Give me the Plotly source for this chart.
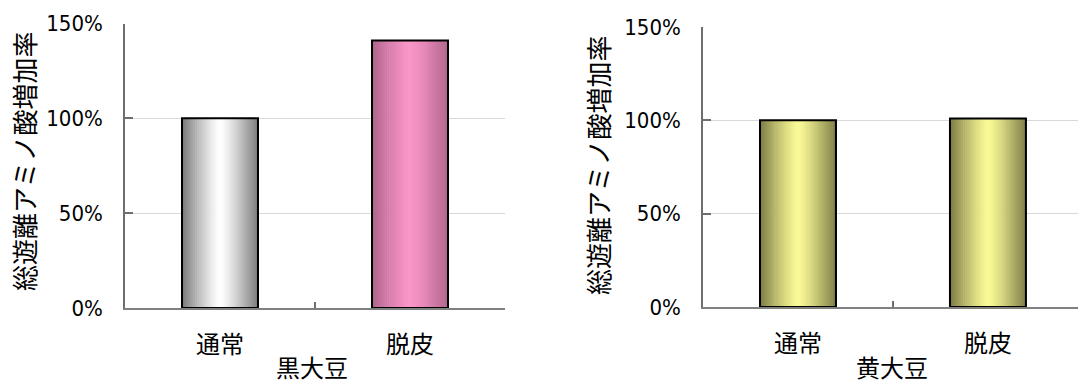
import plotly.graph_objects as go

# ---- data ----
categories = ["通常", "脱皮"]
black_soy_values = [1.00, 1.41]     # 黒大豆
yellow_soy_values = [1.00, 1.01]    # 黄大豆
y_tick_vals = [0, 0.5, 1.0, 1.5]
y_tick_text = ["0%", "50%", "100%", "150%"]
y_title = "総遊離アミノ酸増加率"
x_title_left = "黒大豆"
x_title_right = "黄大豆"

# ---- style ----
W, H = 1078, 383
CJK = "Noto Sans CJK JP"
NUM = "Liberation Sans Narrow, DejaVu Sans Condensed, sans-serif"
bar_w = 0.4
N = 40

grad_gray = ((0x78, 0x78, 0x78), (0xff, 0xff, 0xff))
grad_pink = ((0xb0, 0x64, 0x8c), (0xfa, 0x96, 0xc8))
grad_yell = ((0x7b, 0x7b, 0x45), (0xfa, 0xfa, 0x96))


def grad_color(g, t, p=1.25):
    edge, center = g
    s = 1 - abs(2 * t - 1) ** p
    c = [round(e + (m - e) * s) for e, m in zip(edge, center)]
    return "rgb(%d,%d,%d)" % tuple(c)


fig = go.Figure()


def add_bars(vals, grads, xa, ya):
    step = bar_w / N
    for k in range(N):
        t = (k + 0.5) / N
        w = step * 1.3 if k < N - 1 else step
        fig.add_trace(go.Bar(
            x=categories, y=vals, xaxis=xa, yaxis=ya,
            width=w, offset=-bar_w / 2 + k * step,
            marker=dict(color=[grad_color(g, t) for g in grads], line_width=0),
            showlegend=False, hoverinfo="skip"))
    fig.add_trace(go.Bar(
        x=categories, y=vals, xaxis=xa, yaxis=ya,
        width=bar_w, offset=-bar_w / 2,
        marker=dict(color="rgba(0,0,0,0)", line=dict(color="black", width=2)),
        showlegend=False))


add_bars(black_soy_values, [grad_gray, grad_pink], "x", "y")
add_bars(yellow_soy_values, [grad_yell, grad_yell], "x2", "y2")

axis_col = "#6e6e6e"
common_x = dict(type="category", showline=True, linecolor="#808080", linewidth=1.5,
                ticks="inside", ticklen=6, tickwidth=1.5, tickcolor=axis_col,
                tickson="boundaries", showgrid=False, zeroline=False,
                tickfont=dict(family=CJK, size=24, color="black"),
                ticklabelstandoff=14, fixedrange=True, automargin=False)
common_y = dict(range=[0, 1.5], tickvals=y_tick_vals, ticktext=y_tick_text,
                showline=True, linecolor=axis_col, linewidth=1.5,
                ticks="inside", ticklen=8, tickwidth=1.5, tickcolor=axis_col,
                showgrid=True, gridcolor="#d9d9d9", gridwidth=1, zeroline=False,
                tickfont=dict(family=NUM, size=22, color="black"),
                ticklabelstandoff=16, fixedrange=True, automargin=False)

fig.update_layout(
    width=W, height=H, margin=dict(l=0, r=0, t=0, b=0, autoexpand=False),
    paper_bgcolor="white", plot_bgcolor="white",
    barmode="overlay", showlegend=False,
    xaxis=dict(domain=[125 / W, 505 / W], anchor="y", range=[-0.5, 1.5], **common_x),
    yaxis=dict(domain=[(H - 308) / H, (H - 23.5) / H], anchor="x", **common_y),
    xaxis2=dict(domain=[703 / W, 1.0], anchor="y2", range=[-0.5, 1.474], **common_x),
    yaxis2=dict(domain=[(H - 307) / H, (H - 27) / H], anchor="x2", **common_y),
)

ann_font_y = dict(family=CJK, size=26, color="black")
ann_font_x = dict(family=CJK, size=24, color="black")
fig.add_annotation(text=y_title, xref="paper", yref="paper", x=23 / W, y=(H - 162) / H,
                   textangle=-90, showarrow=False, font=ann_font_y,
                   xanchor="center", yanchor="middle")
fig.add_annotation(text=y_title, xref="paper", yref="paper", x=598 / W, y=(H - 166) / H,
                   textangle=-90, showarrow=False, font=ann_font_y,
                   xanchor="center", yanchor="middle")
fig.add_annotation(text=x_title_left, xref="paper", yref="paper", x=312 / W, y=(H - 366) / H,
                   showarrow=False, font=ann_font_x, xanchor="center", yanchor="middle")
fig.add_annotation(text=x_title_right, xref="paper", yref="paper", x=892 / W, y=(H - 366) / H,
                   showarrow=False, font=ann_font_x, xanchor="center", yanchor="middle")

fig.write_html("out.html")
